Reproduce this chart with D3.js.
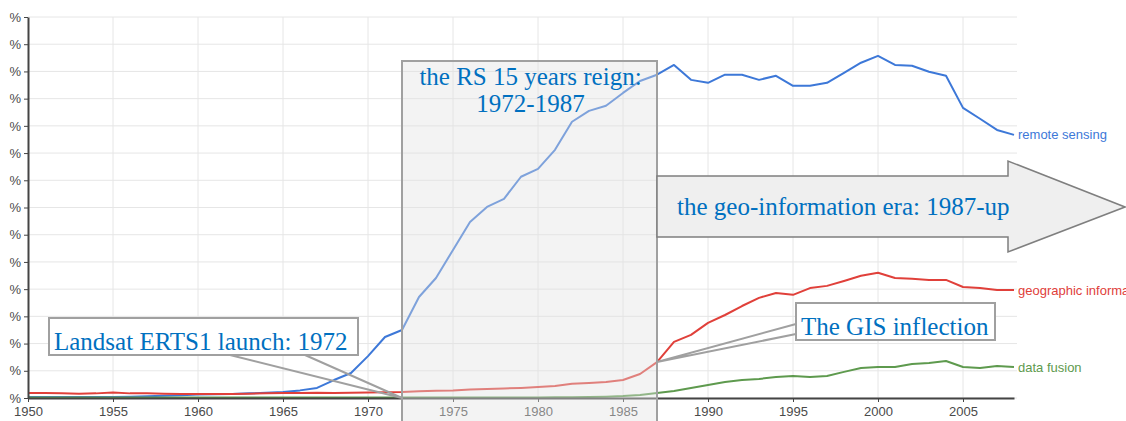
<!DOCTYPE html>
<html>
<head>
<meta charset="utf-8">
<script src="https://cdn.jsdelivr.net/npm/d3@7"></script>
<style>
  body { margin: 0; background: #fff; }
  svg { display: block; }
  .tick-label { font-family: Arial, "Liberation Sans", sans-serif; font-size: 13px; fill: #4a4a4a; }
  .note { font-family: "Liberation Serif", "Times New Roman", serif; font-size: 25px; fill: #0070c0; }
</style>
</head>
<body>
<div id="chart"></div>
<script>
// years on the x axis, one point per year
var years = d3.range(1950, 2009);

// values (in y-grid units, 0..14)
var remoteSensing = [0.04, 0.04, 0.04, 0.04, 0.04, 0.04, 0.05, 0.06, 0.08, 0.10,
    0.13, 0.14, 0.15, 0.17, 0.19, 0.22, 0.28, 0.37, 0.66, 0.92,
    1.54, 2.24, 2.50, 3.71, 4.41, 5.44, 6.47, 7.02, 7.32, 8.13,
    8.42, 9.12, 10.15, 10.55, 10.74, 11.21, 11.65, 11.88, 12.24, 11.69,
    11.58, 11.88, 11.88, 11.69, 11.84, 11.47, 11.47, 11.58, 11.95, 12.32,
    12.57, 12.24, 12.21, 11.99, 11.84, 10.66, 10.26, 9.85, 9.67];
var geographicInfo = [0.18, 0.18, 0.17, 0.16, 0.17, 0.20, 0.17, 0.17, 0.16, 0.15,
    0.15, 0.15, 0.15, 0.16, 0.17, 0.18, 0.18, 0.19, 0.18, 0.19,
    0.20, 0.21, 0.22, 0.25, 0.27, 0.28, 0.31, 0.33, 0.35, 0.37,
    0.40, 0.44, 0.52, 0.55, 0.59, 0.66, 0.88, 1.32, 2.06, 2.32,
    2.76, 3.05, 3.38, 3.68, 3.86, 3.79, 4.04, 4.12, 4.30, 4.49,
    4.60, 4.41, 4.38, 4.34, 4.34, 4.08, 4.04, 3.97, 3.97];
var dataFusion = [0.02, 0.02, 0.02, 0.02, 0.02, 0.02, 0.02, 0.02, 0.02, 0.02,
    0.02, 0.02, 0.02, 0.02, 0.02, 0.02, 0.02, 0.02, 0.02, 0.02,
    0.02, 0.02, 0.02, 0.02, 0.02, 0.02, 0.02, 0.02, 0.02, 0.02,
    0.02, 0.03, 0.03, 0.04, 0.05, 0.07, 0.11, 0.18, 0.26, 0.37,
    0.48, 0.59, 0.66, 0.70, 0.77, 0.81, 0.77, 0.81, 0.96, 1.10,
    1.14, 1.14, 1.25, 1.29, 1.36, 1.14, 1.10, 1.18, 1.14];

var seriesNames = ["remote sensing", "geographic information", "data fusion"];
var seriesColors = ["#3d78d8", "#e0403a", "#5e9a4e"];
var yTicks = d3.range(0, 15);
var xTicks = [1950, 1955, 1960, 1965, 1970, 1975, 1980, 1985, 1990, 1995, 2000, 2005];

var series = seriesNames.map(function(name, i) {
    return { name: name, color: seriesColors[i], values: [remoteSensing, geographicInfo, dataFusion][i] };
});

var width = 1126, height = 421;
var margin = {top: 17, right: 112, bottom: 23, left: 28};

var svg = d3.select("#chart").append("svg")
    .attr("width", width)
    .attr("height", height);

var x = d3.scaleLinear().domain([1950, 2008]).range([margin.left, width - margin.right]);
var y = d3.scaleLinear().domain([0, 14]).range([height - margin.bottom, margin.top]);

//grid
svg.append("g").selectAll("line.h")
    .data(yTicks).enter().append("line")
    .attr("x1", x(1950)).attr("x2", x(2008) + 3)
    .attr("y1", d => y(d)).attr("y2", d => y(d))
    .attr("stroke", "#e6e6e6");
svg.append("g").selectAll("line.v")
    .data(xTicks.slice(1)).enter().append("line")
    .attr("x1", d => x(d)).attr("x2", d => x(d))
    .attr("y1", y(14)).attr("y2", y(0))
    .attr("stroke", "#e6e6e6");

//lines
var line = d3.line()
    .x((d, i) => x(years[i]))
    .y(d => y(d));

svg.append("g").selectAll("path")
    .data(series).enter().append("path")
    .attr("d", d => line(d.values))
    .attr("fill", "none")
    .attr("stroke", d => d.color)
    .attr("stroke-width", 2)
    .attr("stroke-linejoin", "round");

//series labels at the end of each line
svg.append("g").selectAll("text")
    .data(series).enter().append("text")
    .attr("x", x(2008) + 4)
    .attr("y", d => y(d.values[d.values.length - 1]))
    .attr("dy", "0.35em")
    .attr("fill", d => d.color)
    .style("font-family", "Arial, 'Liberation Sans', sans-serif")
    .style("font-size", "13px")
    .text(d => d.name);

//axes
var xAxis = svg.append("g")
    .attr("transform", "translate(0," + y(0) + ")")
    .call(d3.axisBottom(x).tickValues(xTicks).tickFormat(d3.format("d")).tickSize(4).tickSizeOuter(0));
xAxis.select(".domain").attr("stroke", "#444").attr("stroke-width", 2);
xAxis.selectAll(".tick line").attr("stroke", "#444");
xAxis.selectAll("text").attr("class", "tick-label").attr("dy", "0.85em").attr("fill", null);

var yAxis = svg.append("g")
    .attr("transform", "translate(" + x(1950) + ",0)")
    .call(d3.axisLeft(y).tickValues(yTicks).tickFormat(() => "%").tickSize(4).tickSizeOuter(0));
yAxis.select(".domain").attr("stroke", "#444").attr("stroke-width", 2);
yAxis.selectAll(".tick line").attr("stroke", "#444");
yAxis.selectAll("text").attr("class", "tick-label").attr("x", -7).attr("fill", null);

//shaded reign box 1972-1987
svg.append("rect")
    .attr("x", x(1972))
    .attr("y", 61)
    .attr("width", x(1987) - x(1972))
    .attr("height", height - 61 + 2)
    .attr("fill", "#e2e2e2")
    .attr("fill-opacity", 0.4)
    .attr("stroke", "#a0a0a0")
    .attr("stroke-width", 2);

svg.append("text").attr("class", "note")
    .attr("x", (x(1972) + x(1987)) / 2 + 1).attr("y", 85)
    .attr("text-anchor", "middle")
    .text("the RS 15 years reign:");
svg.append("text").attr("class", "note")
    .attr("x", (x(1972) + x(1987)) / 2 + 1).attr("y", 112)
    .attr("text-anchor", "middle")
    .text("1972-1987");

//geo-information arrow
var ax0 = x(1987), ax1 = 1008;
var arrow = d3.path();
arrow.moveTo(ax0, 176);
arrow.lineTo(ax1, 176);
arrow.lineTo(ax1, 161);
arrow.lineTo(1125, 207);
arrow.lineTo(ax1, 252);
arrow.lineTo(ax1, 237);
arrow.lineTo(ax0, 237);
arrow.closePath();
svg.append("path")
    .attr("d", arrow.toString())
    .attr("fill", "#efefef")
    .attr("stroke", "#7f7f7f")
    .attr("stroke-width", 1.5);
svg.append("text").attr("class", "note")
    .attr("x", 677).attr("y", 215)
    .text("the geo-information era: 1987-up");

//callouts
function callout(bx, by, bw, bh, label, tx, ty, p1, p2) {
    svg.append("path")
        .attr("d", "M" + p1[0] + "," + p1[1] + "L" + tx + "," + ty + "L" + p2[0] + "," + p2[1])
        .attr("fill", "none")
        .attr("stroke", "#a0a0a0")
        .attr("stroke-width", 2);
    svg.append("rect")
        .attr("x", bx).attr("y", by)
        .attr("width", bw).attr("height", bh)
        .attr("fill", "#fff")
        .attr("stroke", "#a0a0a0")
        .attr("stroke-width", 2);
    svg.append("text").attr("class", "note")
        .attr("x", bx + 5).attr("y", by + bh - 5)
        .text(label);
}

callout(49, 318, 309, 37, "Landsat ERTS1 launch: 1972",
    x(1972), y(0), [230, 355], [305, 355]);
callout(796, 303, 199, 37, "The GIS inflection",
    x(1987), y(geographicInfo[years.indexOf(1987)]), [796, 324], [796, 334]);
</script>
</body>
</html>
